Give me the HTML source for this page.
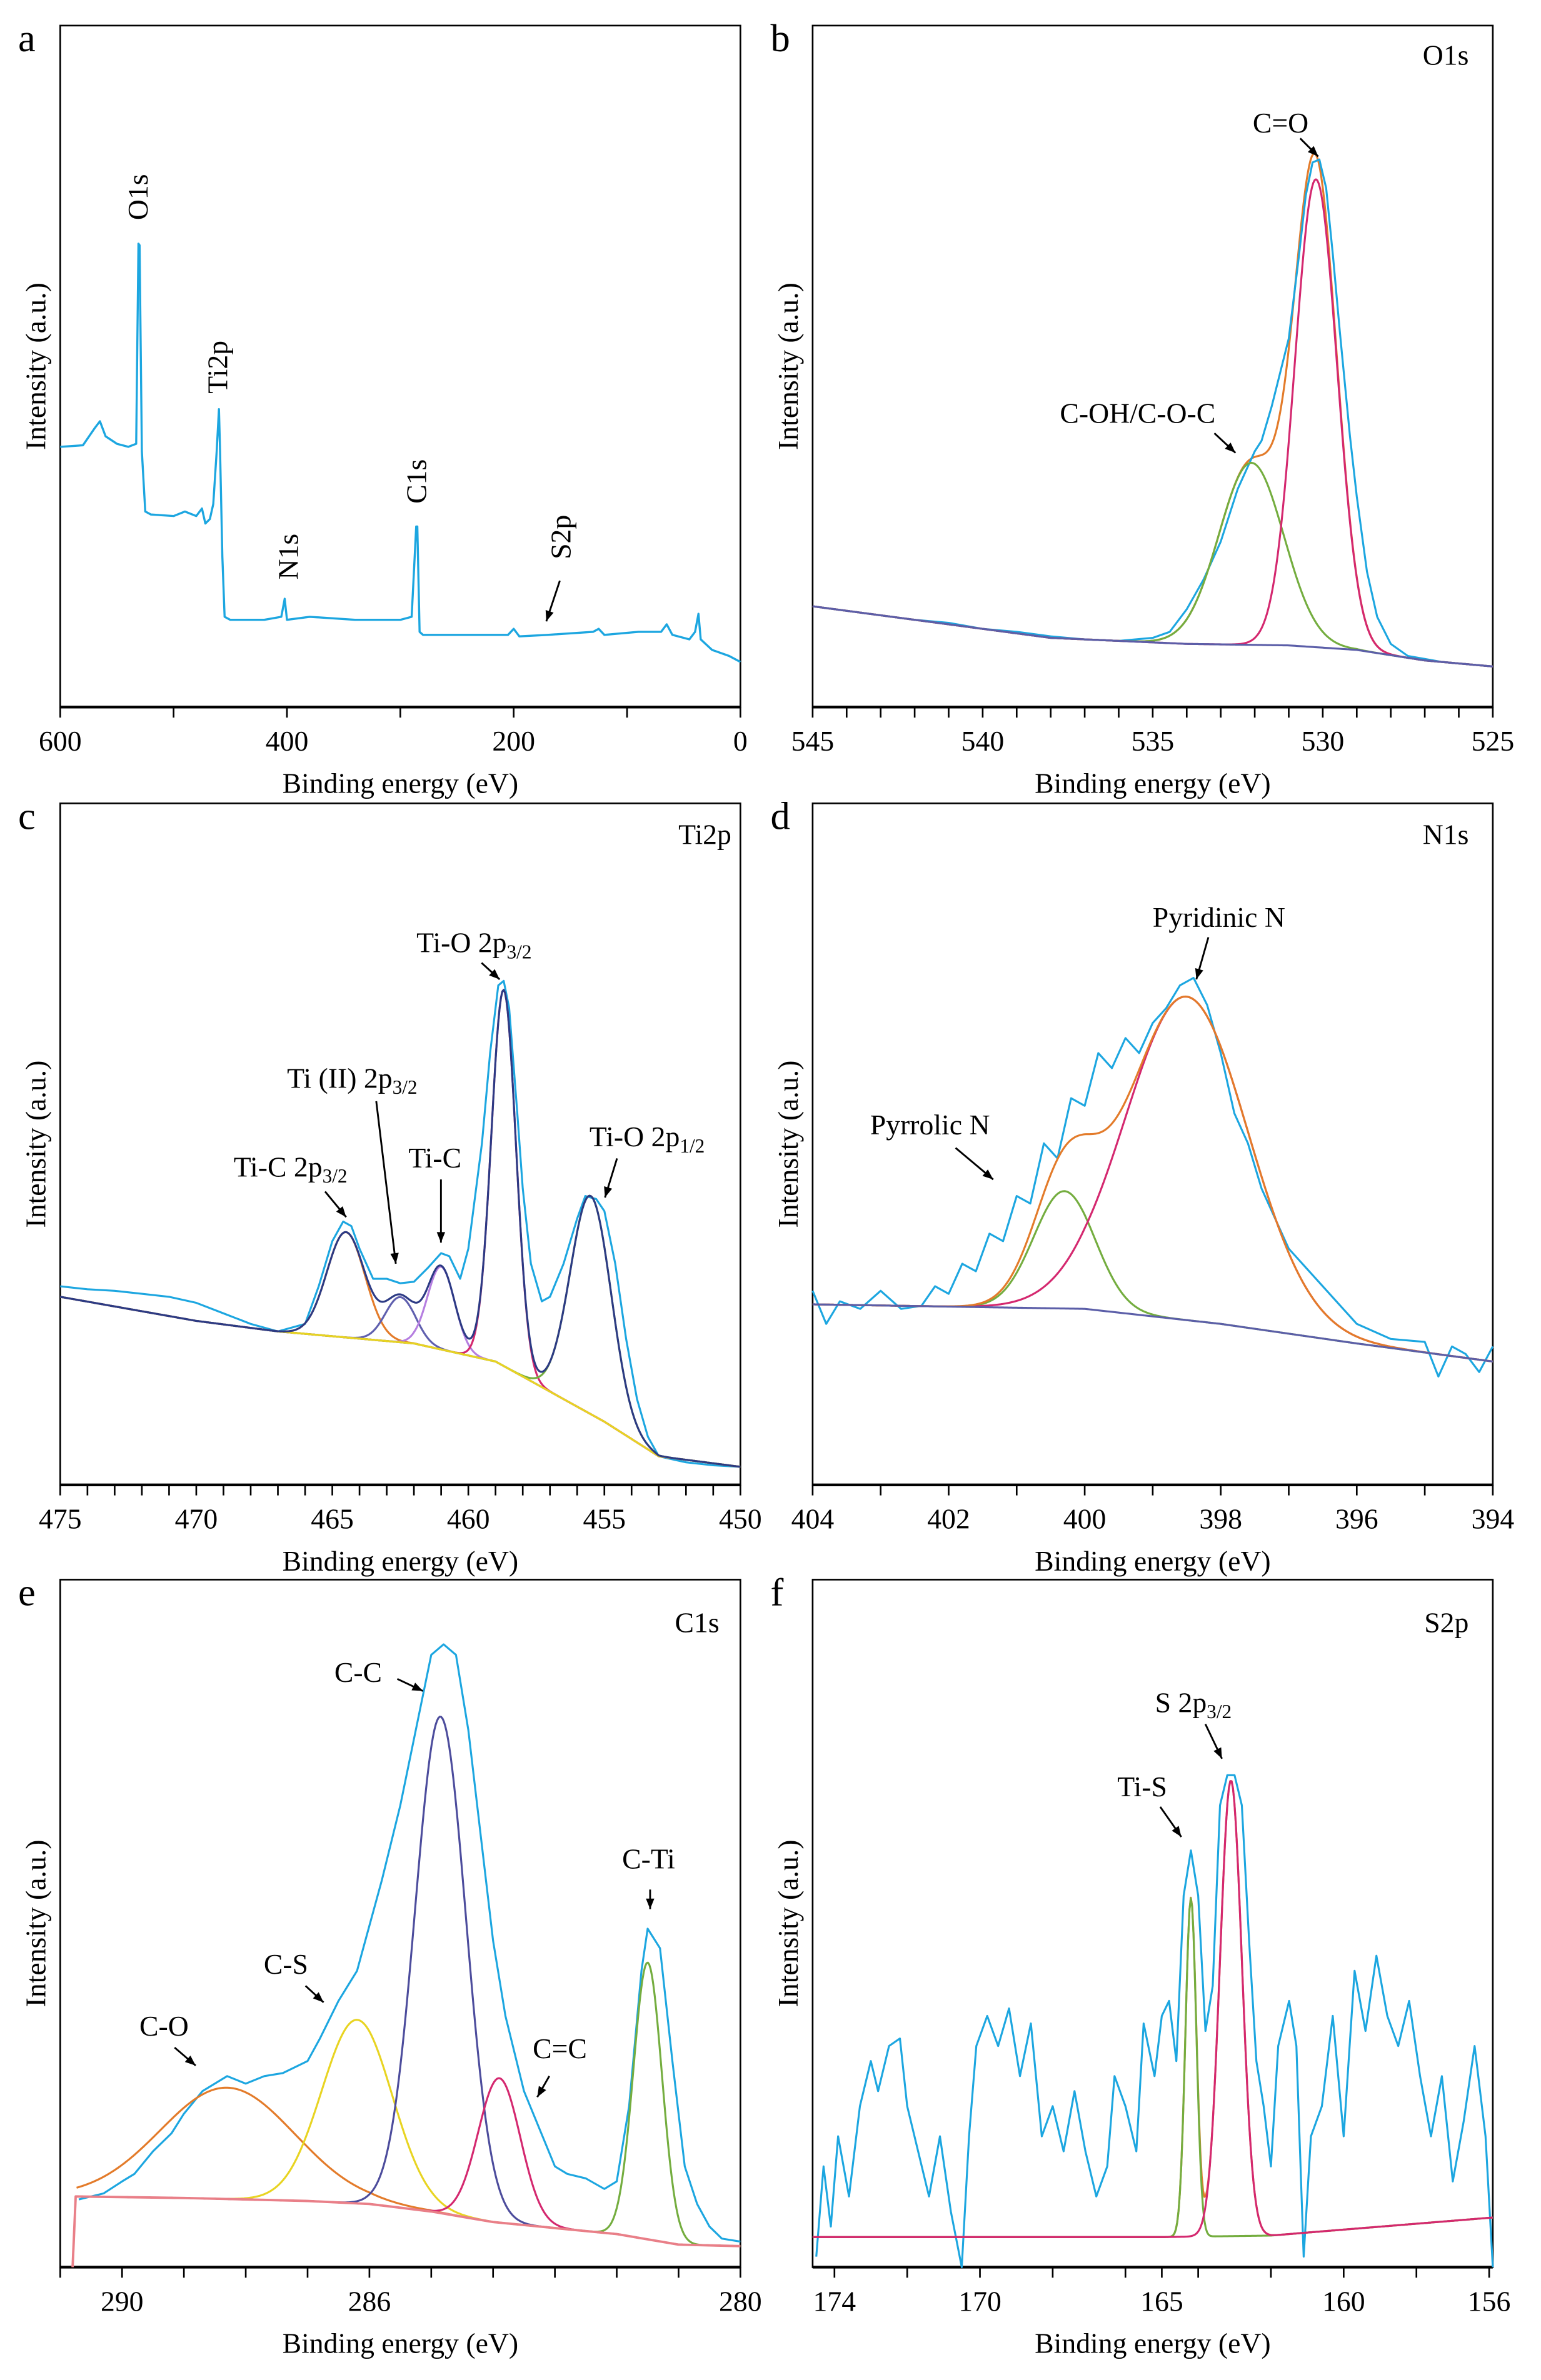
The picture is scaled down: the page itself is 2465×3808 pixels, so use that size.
<!DOCTYPE html>
<html><head><meta charset="utf-8"><style>
html,body{margin:0;padding:0;background:#fff}
svg{display:block}
text{font-family:"Liberation Serif",serif;fill:#000}
</style></head><body>
<svg id="fig" xmlns="http://www.w3.org/2000/svg" width="2465" height="3808" viewBox="0 0 1024 1582"></svg>
<script>
// ---------- Panel a: survey ----------
const aE=[600,580,570,565,560,550,540,533,531,530,528,525,520,500,490,480,475,472,468,465,462,460,459,457,455,450,420,405,402,400,380,340,300,290,286,285,283,280,250,205,200,195,170,130,125,120,90,70,65,60,45,40,37,35,25,10,0];
const aV=[173,174,185,190,180,175,173,175,308,307,170,130,128,127,130,127,132,122,125,135,170,198,170,100,60,58,58,60,72,58,60,58,58,60,120,120,50,48,48,48,52,47,48,50,52,48,50,50,55,48,45,50,62,45,38,34,30];
// ---------- Panel b: O1s ----------
const bE=[545,544,543,542,541,540,539,538,537,536,535,534.5,534,533.5,533,532.5,532,531.8,531.5,531,530.7,530.5,530.3,530.1,529.9,529.7,529.5,529.2,529,528.7,528.4,528,527.5,527,526.5,526,525];
const bV=[67,64,61,58,56,52,50,47,45,44,46,50,65,85,110,145,170,177,200,245,300,340,362,364,345,300,250,180,140,90,60,42,34,32,30,29,27];
const bBgE=[545,538,534,531,529,527,525];
const bBgV=[67,46,42,41,38,31,27];
const bCenters=[532.1,530.2];
const bAmps=[121,311];
const bSigmas=[0.95,0.62];
// ---------- Panel c: Ti2p ----------
const cE=[475,474,473,472,471,470,469,468,467,466,465.5,465,464.6,464.3,464,463.5,463,462.5,462,461.5,461,460.7,460.3,460,459.5,459.2,458.9,458.7,458.5,458.2,458,457.7,457.3,457,456.5,456,455.7,455.3,455,454.6,454.2,453.8,453.4,453,452,451,450];
const cV=[132,130,129,127,125,121,114,107,102,107,132,162,175,172,157,137,137,134,135,144,154,152,137,157,227,287,332,335,317,247,197,147,122,125,147,177,192,190,182,147,97,57,32,19,15,13,12];
const cBgE=[475,470,467,462,459,457,455,453,450];
const cBgV=[125,109,102,94,82,62,42,19,12];
const cCenters=[464.5,462.5,461.0,458.7,455.5];
const cAmps=[70,30,55,250,145];
const cSigmas=[0.7,0.55,0.5,0.45,0.75];
// ---------- Panel d: N1s ----------
const dE=[404,403.8,403.6,403.3,403,402.7,402.4,402.2,402,401.8,401.6,401.4,401.2,401,400.8,400.6,400.4,400.2,400,399.8,399.6,399.4,399.2,399,398.8,398.6,398.4,398.2,398,397.8,397.6,397.4,397.2,397,396.8,396.5,396.2,396,395.5,395,394.8,394.6,394.4,394.2,394];
const dV=[129,107,122,117,129,117,119,132,127,147,142,167,162,192,187,227,217,257,252,287,277,297,287,307,317,332,337,319,287,247,227,197,177,157,147,132,117,107,97,95,72,92,87,75,92];
const dBgE=[404,400,398,396,394];
const dBgV=[120,117,107,94,82];
const dCenters=[400.3,398.5];
const dAmps=[78,215];
const dSigmas=[0.45,0.9];
// ---------- Panel e: C1s ----------
const eE=[290.7,290.3,290,289.8,289.5,289.2,289,288.7,288.3,288,287.7,287.4,287,286.8,286.5,286.2,286,285.8,285.5,285.2,285,284.8,284.6,284.4,284.2,284,283.8,283.5,283.2,283,282.8,282.5,282.2,282,281.8,281.6,281.5,281.3,281.1,280.9,280.7,280.5,280.3,280];
const eV=[45,49,57,62,77,89,102,117,127,122,127,129,137,152,177,197,227,257,307,367,407,414,407,357,287,217,167,117,87,67,62,59,52,57,107,197,225,212,137,67,42,27,19,17];
const eBgE=[290.8,290.75,289,287,286,285,284,283,282,281,280];
const eBgV=[0,47,46,44,42,37,30,26,22,15,14];
const eCenters=[288.3,286.2,284.85,283.9,281.5];
const eAmps=[74,122,330,96,184];
const eSigmas=[1.08,0.57,0.41,0.34,0.23];
// ---------- Panel f: S2p ----------
const fE=[174.5,174.3,174.1,173.9,173.6,173.3,173,172.8,172.5,172.2,172,171.7,171.4,171.1,170.8,170.5,170.3,170.1,169.8,169.5,169.2,168.9,168.6,168.3,168,167.7,167.4,167.1,166.8,166.5,166.3,166,165.7,165.5,165.2,165,164.8,164.6,164.4,164.2,164,163.8,163.6,163.4,163.2,163,162.8,162.6,162.4,162.2,162,161.8,161.5,161.3,161.1,160.9,160.6,160.3,160,159.7,159.4,159.1,158.8,158.5,158.2,157.9,157.6,157.3,157,156.7,156.4,156.1,155.9];
const fV=[7,67,27,87,47,107,137,117,147,152,107,77,47,87,37,0,87,147,167,147,172,127,162,87,107,77,117,77,47,67,127,107,77,162,127,167,177,137,247,277,247,157,187,307,327,327,307,217,137,107,67,147,177,147,7,87,107,167,87,197,157,207,167,147,177,127,87,127,57,97,147,87,0];
const fBgE=[174.6,165,162,161,155.9];
const fBgV=[20,20,21,23,33];
const fCenters=[164.2,163.1];
const fAmps=[225,303];
const fSigmas=[0.15,0.3];

const NS="http://www.w3.org/2000/svg";
const svg=document.getElementById('fig');
function mk(tag,attrs,parent){const el=document.createElementNS(NS,tag);for(const k in attrs)el.setAttribute(k,attrs[k]);(parent||svg).appendChild(el);return el;}

const panels={
 a:{x0:40,x1:492,top:17,bot:470,e0:600,e1:0},
 b:{x0:540,x1:992,top:17,bot:470,e0:545,e1:525},
 c:{x0:40,x1:492,top:534,bot:987,e0:475,e1:450},
 d:{x0:540,x1:992,top:534,bot:987,e0:404,e1:394},
 e:{x0:40,x1:492,top:1050,bot:1507,e0:291,e1:280},
 f:{x0:540,x1:992,top:1050,bot:1507,e0:174.6,e1:155.9}
};
function xs(p,e){return p.x0+(p.e0-e)/(p.e0-p.e1)*(p.x1-p.x0);}
function ys(p,v){return p.bot-v;}
function interp(E,V,e){
  if(e>=E[0])return V[0];
  for(let i=0;i<E.length-1;i++){if(e<=E[i]&&e>=E[i+1]){const t=(E[i]-e)/(E[i]-E[i+1]);return V[i]+t*(V[i+1]-V[i]);}}
  return V[V.length-1];
}
function gauss(e,c,a,s){return a*Math.exp(-0.5*((e-c)/s)**2);}
function pathFrom(p,E,V){let d='';for(let i=0;i<E.length;i++){d+=(i?'L':'M')+xs(p,E[i]).toFixed(2)+' '+ys(p,V[i]).toFixed(2);}return d;}
function modelCurve(p,bgE,bgV,C,A,S,idx){
  const E=[],V=[];const n=500;
  for(let i=0;i<=n;i++){const e=p.e0-(p.e0-p.e1)*i/n;if(e>bgE[0])continue;let v=interp(bgE,bgV,e);
    for(let k=0;k<C.length;k++){if(idx==='all'||idx===k)v+=gauss(e,C[k],A[k],S[k]);}E.push(e);V.push(v);}
  return [E,V];
}
function line(p,E,V,color,name,w){
  const el=mk('path',{d:pathFrom(p,E,V),fill:'none',stroke:color,'stroke-width':w||1.3,'stroke-linejoin':'round'},p.g);
  
  
}
function txt(x,y,s,size,opts,parent){
  const t=mk('text',Object.assign({x:x,y:y,'font-size':size},opts||{}),parent||svg);t.innerHTML=s;return t;
}
function arrow(x1,y1,x2,y2,name){
  const g=mk('g',{});
  
  
  mk('line',{x1:x1,y1:y1,x2:x2,y2:y2,stroke:'#000','stroke-width':1.2},g);
  const ang=Math.atan2(y2-y1,x2-x1),L=7,W=2.8;
  const bx=x2-L*Math.cos(ang),by=y2-L*Math.sin(ang);
  const px=-Math.sin(ang)*W,py=Math.cos(ang)*W;
  mk('polygon',{points:`${x2},${y2} ${bx+px},${by+py} ${bx-px},${by-py}`,fill:'#000'},g);
}
function frame(key,letter,ticks,labels){
  const p=panels[key];
  const g=mk('g',{});
  
  
  p.g=g;
  const r=mk('rect',{x:p.x0,y:p.top,width:p.x1-p.x0,height:p.bot-p.top,fill:'none',stroke:'#000','stroke-width':1.1},g);
  
  
  const ax=mk('line',{x1:p.x0,x2:p.x1,y1:p.bot,y2:p.bot,stroke:'#000','stroke-width':1.8},g);
  
  
  for(const t of ticks){const x=xs(p,t);const tk=mk('line',{x1:x,x2:x,y1:p.bot,y2:p.bot+7,stroke:'#000','stroke-width':1.1},g);
    
    }
  for(const t of labels){const tl=txt(xs(p,t),p.bot+29,String(t),19,{'text-anchor':'middle'},g);
    
    }
  const xl=txt((p.x0+p.x1)/2,p.bot+57,'Binding energy (eV)',19,{'text-anchor':'middle'},g);
  
  
  const yc=(p.top+p.bot)/2;
  const yl=txt(0,0,'Intensity (a.u.)',19,{'text-anchor':'middle',transform:`translate(${p.x0-10},${yc}) rotate(-90)`},g);
  
  
  const pl=txt(p.x0-28,p.top+17,letter,26,{},g);
  
  
  return p;
}
function range(a,b,s){const r=[];for(let v=a;v>=b-1e-9;v-=s)r.push(+v.toFixed(3));return r;}

const BLUE='#1ca6e0',ORANGE='#e37b2a',GREEN='#74ad3f',MAG='#d4286f',NAVY='#2c3a84',PURP='#5b5ea8',VIO='#b57ee0',YEL='#e8d422',PINK='#e97f88',NAVY2='#4c4c9c';

// a
let p=frame('a','a',range(600,0,100),[600,400,200,0]);
line(p,aE,aV,BLUE,'survey-spectrum',1.4);
txt(0,0,'O1s',19,{'text-anchor':'middle',transform:'translate(98,131) rotate(-90)'});
txt(0,0,'Ti2p',19,{'text-anchor':'middle',transform:'translate(151,244) rotate(-90)'});
txt(0,0,'N1s',19,{'text-anchor':'middle',transform:'translate(198,370) rotate(-90)'});
txt(0,0,'C1s',19,{'text-anchor':'middle',transform:'translate(283,320) rotate(-90)'});
txt(0,0,'S2p',19,{'text-anchor':'middle',transform:'translate(379,357) rotate(-90)'});
arrow(372,386,363,413,'s2p-arrow');

// b
p=frame('b','b',range(545,525,1),[545,540,535,530,525]);
txt(976,43,'O1s',19,{'text-anchor':'end'},p.g);
let r=modelCurve(p,bBgE,bBgV,bCenters,bAmps,bSigmas,'all');line(p,r[0],r[1],ORANGE,'o1s-envelope');
line(p,bE,bV,BLUE,'o1s-spectrum');
r=modelCurve(p,bBgE,bBgV,bCenters,bAmps,bSigmas,0);line(p,r[0],r[1],GREEN,'c-oh-component');
r=modelCurve(p,bBgE,bBgV,bCenters,bAmps,bSigmas,1);line(p,r[0],r[1],MAG,'c-o-double-component');
r=modelCurve(p,bBgE,bBgV,bCenters,bAmps,bSigmas,-1);line(p,r[0],r[1],PURP,'o1s-background');
txt(851,88,'C=O',19,{'text-anchor':'middle'});
arrow(864,92,876,104,'c-o-arrow');
txt(756,281,'C-OH/C-O-C',19,{'text-anchor':'middle'});
arrow(807,288,821,301,'c-oh-arrow');

// c
p=frame('c','c',range(475,450,1),[475,470,465,460,455,450]);
txt(486,561,'Ti2p',19,{'text-anchor':'end'},p.g);
line(p,cE,cV,BLUE,'ti2p-spectrum');
const cCols=[ORANGE,'#5f5fae',VIO,MAG,GREEN];
const cNames=['ti-c-2p32-component','ti-ii-component','ti-c-component','ti-o-2p32-component','ti-o-2p12-component'];
for(let k=0;k<5;k++){r=modelCurve(p,cBgE,cBgV,cCenters,cAmps,cSigmas,k);line(p,r[0],r[1],cCols[k],cNames[k]);}
r=modelCurve(p,cBgE.slice(2),cBgV.slice(2),cCenters,cAmps,cSigmas,-1);line(p,r[0],r[1],YEL,'ti2p-background');
r=modelCurve(p,cBgE,cBgV,cCenters,cAmps,cSigmas,'all');line(p,r[0],r[1],NAVY,'ti2p-envelope');
txt(315,633,'Ti-O 2p<tspan font-size="13" dy="4">3/2</tspan>',19,{'text-anchor':'middle'});
arrow(320,640,332,651,'ti-o-32-arrow');
txt(234,723,'Ti (II) 2p<tspan font-size="13" dy="4">3/2</tspan>',19,{'text-anchor':'middle'});
arrow(250,732,263,840,'ti-ii-arrow');
txt(289,776,'Ti-C',19,{'text-anchor':'middle'});
arrow(293,784,293,826,'ti-c-arrow');
txt(193,782,'Ti-C 2p<tspan font-size="13" dy="4">3/2</tspan>',19,{'text-anchor':'middle'});
arrow(216,792,230,809,'ti-c-32-arrow');
txt(430,762,'Ti-O 2p<tspan font-size="13" dy="4">1/2</tspan>',19,{'text-anchor':'middle'});
arrow(410,770,402,796,'ti-o-12-arrow');

// d
p=frame('d','d',range(404,394,1),[404,402,400,398,396,394]);
txt(976,561,'N1s',19,{'text-anchor':'end'},p.g);
line(p,dE,dV,BLUE,'n1s-spectrum');
r=modelCurve(p,dBgE,dBgV,dCenters,dAmps,dSigmas,0);line(p,r[0],r[1],GREEN,'pyrrolic-component');
r=modelCurve(p,dBgE,dBgV,dCenters,dAmps,dSigmas,1);line(p,r[0],r[1],MAG,'pyridinic-component');
r=modelCurve(p,dBgE,dBgV,dCenters,dAmps,dSigmas,'all');line(p,r[0],r[1],ORANGE,'n1s-envelope');
r=modelCurve(p,dBgE,dBgV,dCenters,dAmps,dSigmas,-1);line(p,r[0],r[1],PURP,'n1s-background');
txt(810,616,'Pyridinic N',19,{'text-anchor':'middle'});
arrow(803,623,795,651,'pyridinic-arrow');
txt(618,754,'Pyrrolic N',19,{'text-anchor':'middle'});
arrow(635,763,660,784,'pyrrolic-arrow');

// e
p=frame('e','e',range(291,280,1),[290,286,280]);
txt(478,1085,'C1s',19,{'text-anchor':'end'},p.g);
line(p,eE,eV,BLUE,'c1s-spectrum');
const eCols=[ORANGE,YEL,NAVY2,MAG,GREEN];
const eNames=['c-o-component','c-s-component','c-c-component','c-double-c-component','c-ti-component'];
for(let k=0;k<5;k++){r=modelCurve(p,eBgE.slice(1),eBgV.slice(1),eCenters,eAmps,eSigmas,k);line(p,r[0],r[1],eCols[k],eNames[k]);}
line(p,eBgE,eBgV,PINK,'c1s-background',1.6);
txt(238,1118,'C-C',19,{'text-anchor':'middle'});
arrow(264,1116,281,1124,'c-c-arrow');
txt(190,1312,'C-S',19,{'text-anchor':'middle'});
arrow(203,1320,215,1331,'c-s-arrow');
txt(109,1353,'C-O',19,{'text-anchor':'middle'});
arrow(116,1361,130,1373,'c-o-arrow-e');
txt(372,1368,'C=C',19,{'text-anchor':'middle'});
arrow(365,1380,357,1394,'c-double-c-arrow');
txt(431,1242,'C-Ti',19,{'text-anchor':'middle'});
arrow(432,1256,432,1269,'c-ti-arrow');

// f
p=frame('f','f',[174,172,170,168,166,165,164,162,160,158,156],[174,170,165,160,156]);
txt(976,1085,'S2p',19,{'text-anchor':'end'},p.g);
line(p,fE,fV,BLUE,'s2p-spectrum');
r=modelCurve(p,fBgE,fBgV,fCenters,fAmps,fSigmas,'all');line(p,r[0],r[1],ORANGE,'s2p-envelope');
r=modelCurve(p,fBgE,fBgV,fCenters,fAmps,fSigmas,0);line(p,r[0],r[1],GREEN,'ti-s-component');
r=modelCurve(p,fBgE,fBgV,fCenters,fAmps,fSigmas,1);line(p,r[0],r[1],MAG,'s-2p32-component');
txt(793,1138,'S 2p<tspan font-size="13" dy="4">3/2</tspan>',19,{'text-anchor':'middle'});
arrow(801,1146,812,1169,'s-2p32-arrow');
txt(759,1194,'Ti-S',19,{'text-anchor':'middle'});
arrow(771,1201,785,1221,'ti-s-arrow');
</script>
</body></html>
